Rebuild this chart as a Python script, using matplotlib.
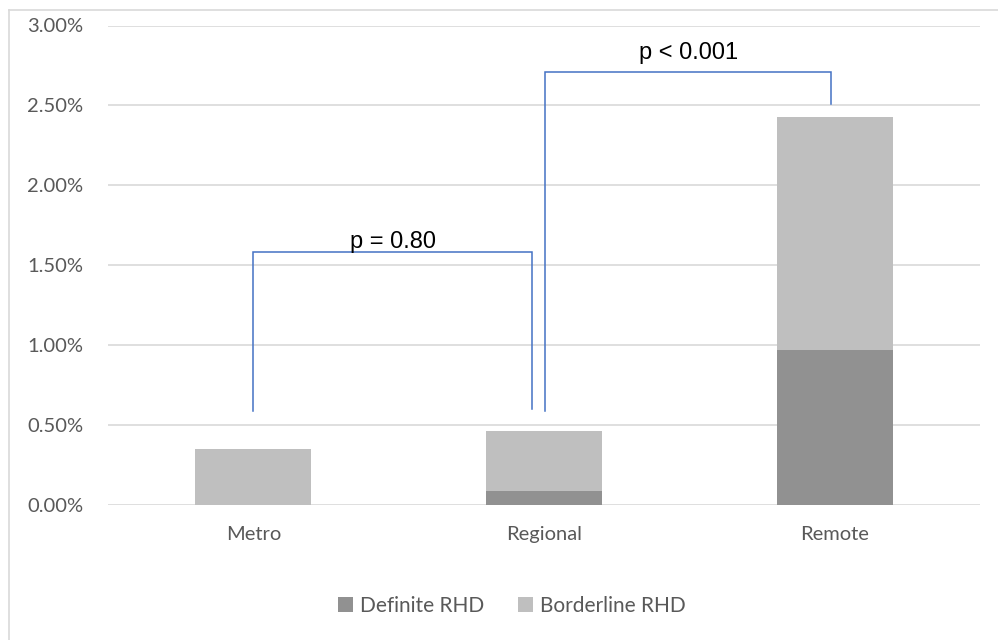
import matplotlib
matplotlib.use('Agg')
import matplotlib.pyplot as plt
from matplotlib.lines import Line2D
from matplotlib.ticker import FuncFormatter

# values in percent
categories = ['Metro', 'Regional', 'Remote']
definite = [0.0, 0.09, 0.97]
borderline = [0.35, 0.37, 1.46]

# significance brackets: (left cat, right cat), left foot, top, right foot
bracket_cats = [(0, 1), (1, 2)]
bracket_left_foot = [0.59, 0.59]
bracket_top = [1.58, 2.71]
bracket_right_foot = [0.60, 2.51]
bracket_labels = ['p = 0.80', 'p < 0.001']

dark = '#919191'
light = '#bfbfbf'
grid_col = '#d9d9d9'
text_col = '#595959'
blue = '#4472c4'

fig = plt.figure(figsize=(9.98, 6.4), dpi=100)
ax = fig.add_axes([108 / 998, 135 / 640, 872 / 998, 479.5 / 640])

x = list(range(len(categories)))
ax.bar(x, definite, width=0.4, color=dark, label='Definite RHD', zorder=3)
ax.bar(x, borderline, width=0.4, bottom=definite, color=light, label='Borderline RHD', zorder=3)

ax.set_xlim(-0.5, 2.5)
ax.set_ylim(0, 3.0)
ax.set_yticks([0, 0.5, 1.0, 1.5, 2.0, 2.5, 3.0])
ax.yaxis.set_major_formatter(FuncFormatter(lambda v, p: '{:.2f}%'.format(v)))
ax.set_xticks(x)
ax.set_xticklabels(categories)
ax.grid(axis='y', color=grid_col, linewidth=1.2, zorder=0)
for s in ax.spines.values():
    s.set_visible(False)
ax.tick_params(axis='both', length=0, colors=text_col, labelsize=14.5)
ax.tick_params(axis='y', pad=18)
ax.tick_params(axis='x', pad=15)
for lab in ax.get_xticklabels() + ax.get_yticklabels():
    lab.set_family(['Lato', 'DejaVu Sans'])

# brackets
offsets = [(0.0, -0.04), (0.005, -0.013)]
label_gap = [0.025, 0.08]
for (a, b), lf, top, rf, lab, (oa, ob), gap in zip(bracket_cats, bracket_left_foot, bracket_top,
                                                   bracket_right_foot, bracket_labels, offsets,
                                                   label_gap):
    xa, xb = a + oa, b + ob
    ax.plot([xa, xa, xb, xb], [lf, top, top, rf], color=blue, linewidth=1.1,
            zorder=4, solid_joinstyle='miter')
    ax.text((xa + xb) / 2, top + gap, lab, ha='center', va='baseline', fontsize=17,
            family=['Liberation Sans', 'DejaVu Sans'], color='black', zorder=5)

leg = fig.legend(loc='center', bbox_to_anchor=(512 / 998, 1 - 606 / 640), ncol=2, frameon=False,
                 handlelength=0.7, handleheight=0.7, handletextpad=0.35,
                 columnspacing=1.6, prop={'family': ['Lato', 'DejaVu Sans'], 'size': 15})
for t in leg.get_texts():
    t.set_color(text_col)

# chart frame
fig.add_artist(Line2D([9 / 998, 9 / 998], [0, 1 - 10 / 640], color=grid_col, linewidth=1.2))
fig.add_artist(Line2D([9 / 998, 1], [1 - 10 / 640, 1 - 10 / 640], color=grid_col, linewidth=1.2))

fig.savefig('out.png', dpi=100)
